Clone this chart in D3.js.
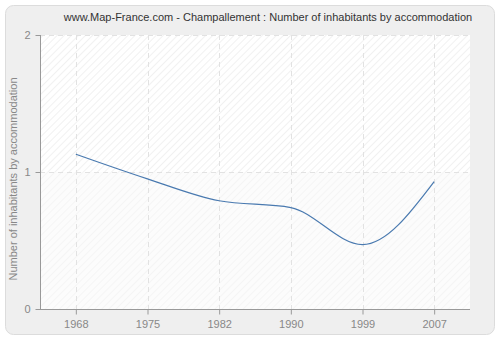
<!DOCTYPE html>
<html>
<head>
<meta charset="utf-8">
<script src="https://cdn.jsdelivr.net/npm/d3@7"></script>
<style>
  html, body { margin: 0; padding: 0; background: #fff; }
  svg { display: block; font-family: Tahoma, "Liberation Sans", Arial, sans-serif; }
</style>
</head>
<body>
<svg id="chart" width="500" height="340"></svg>
<script>
// Census years and average inhabitants per accommodation
const years = ["1968", "1975", "1982", "1990", "1999", "2007"];
const values = [1.13, 0.95, 0.79, 0.74, 0.47, 0.93];
const yTicks = [0, 1, 2];
const title = "www.Map-France.com - Champallement : Number of inhabitants by accommodation";
const yTitle = "Number of inhabitants by accommodation";

const FONT = "Tahoma, 'Liberation Sans', Arial, sans-serif";
const svg = d3.select("#chart");
const plotL = 40, plotR = 470, plotT = 35, plotB = 309;

// Hatch patterns for the plot background
const defs = svg.append("defs");
function hatch(id, bg, stroke) {
  const p = defs.append("pattern")
    .attr("id", id).attr("patternUnits", "userSpaceOnUse")
    .attr("width", 5).attr("height", 5)
    .attr("patternTransform", "rotate(45)");
  p.append("rect").attr("width", 5).attr("height", 5).attr("fill", bg);
  p.append("line").attr("x1", 0).attr("y1", 0).attr("x2", 0).attr("y2", 5)
    .attr("stroke", stroke).attr("stroke-width", 1.2);
}
hatch("hatchTop", "#ffffff", "#e8e8e8");
hatch("hatchBottom", "#fcfcfc", "#f1f1f1");

// Outer frame
svg.append("rect")
  .attr("x", 5.5).attr("y", 5.5).attr("width", 489).attr("height", 329)
  .attr("rx", 8).attr("ry", 8)
  .attr("fill", "#efefef").attr("stroke", "#dcdcdc");

// Scales
const x = d3.scalePoint().domain(years).range([plotL, plotR]).padding(0.5);
const y = d3.scaleLinear().domain([0, 2]).range([plotB, plotT]);

// Plot background: upper and lower bands
svg.append("rect").attr("x", plotL).attr("y", y(2))
  .attr("width", plotR - plotL).attr("height", y(1) - y(2))
  .attr("fill", "url(#hatchTop)");
svg.append("rect").attr("x", plotL).attr("y", y(1))
  .attr("width", plotR - plotL).attr("height", y(0) - y(1))
  .attr("fill", "url(#hatchBottom)");

// Grid lines
const grid = svg.append("g").attr("stroke", "#e2e2e2").attr("stroke-dasharray", "5,4");
grid.selectAll("line.v").data(years).join("line")
  .attr("x1", d => Math.round(x(d)) + 0.5).attr("x2", d => Math.round(x(d)) + 0.5)
  .attr("y1", plotT).attr("y2", plotB);
grid.selectAll("line.h").data(yTicks.filter(d => d > 0)).join("line")
  .attr("x1", plotL).attr("x2", plotR)
  .attr("y1", d => Math.round(y(d)) + 0.5).attr("y2", d => Math.round(y(d)) + 0.5);

// Axes
const xAxis = svg.append("g")
  .attr("transform", `translate(0,${plotB + 0.5})`)
  .call(d3.axisBottom(x).tickSizeOuter(0).tickSize(5).tickPadding(6));
const yAxis = svg.append("g")
  .attr("transform", `translate(${plotL + 0.5},0)`)
  .call(d3.axisLeft(y).tickValues(yTicks).tickFormat(d3.format("d")).tickSizeOuter(0).tickSize(5).tickPadding(5));
[xAxis, yAxis].forEach(a => {
  a.select(".domain").attr("stroke", "#999").attr("stroke-width", 1);
  a.selectAll(".tick line").attr("stroke", "#999");
  a.selectAll(".tick text").attr("fill", "#888").attr("font-size", 11)
    .attr("font-family", FONT);
});
xAxis.select(".domain").attr("d", `M${plotL},0H${plotR}`);
yAxis.select(".domain").attr("d", `M0,${plotT}V${plotB}`);

// Data line
const line = d3.line()
  .x((d, i) => x(years[i]))
  .y(d => y(d))
  .curve(d3.curveMonotoneX);
svg.append("path").datum(values)
  .attr("d", line)
  .attr("fill", "none")
  .attr("stroke", "#4a7ab0")
  .attr("stroke-width", 1.2);

// Title
svg.append("text")
  .attr("x", 268).attr("y", 21)
  .attr("text-anchor", "middle")
  .attr("fill", "#333").attr("font-size", 11)
  .attr("font-family", FONT)
  .text(title);

// Y axis title
svg.append("text")
  .attr("transform", `translate(17,179) rotate(-90)`)
  .attr("text-anchor", "middle")
  .attr("fill", "#888").attr("font-size", 11)
  .attr("font-family", FONT)
  .text(yTitle);
</script>
</body>
</html>
